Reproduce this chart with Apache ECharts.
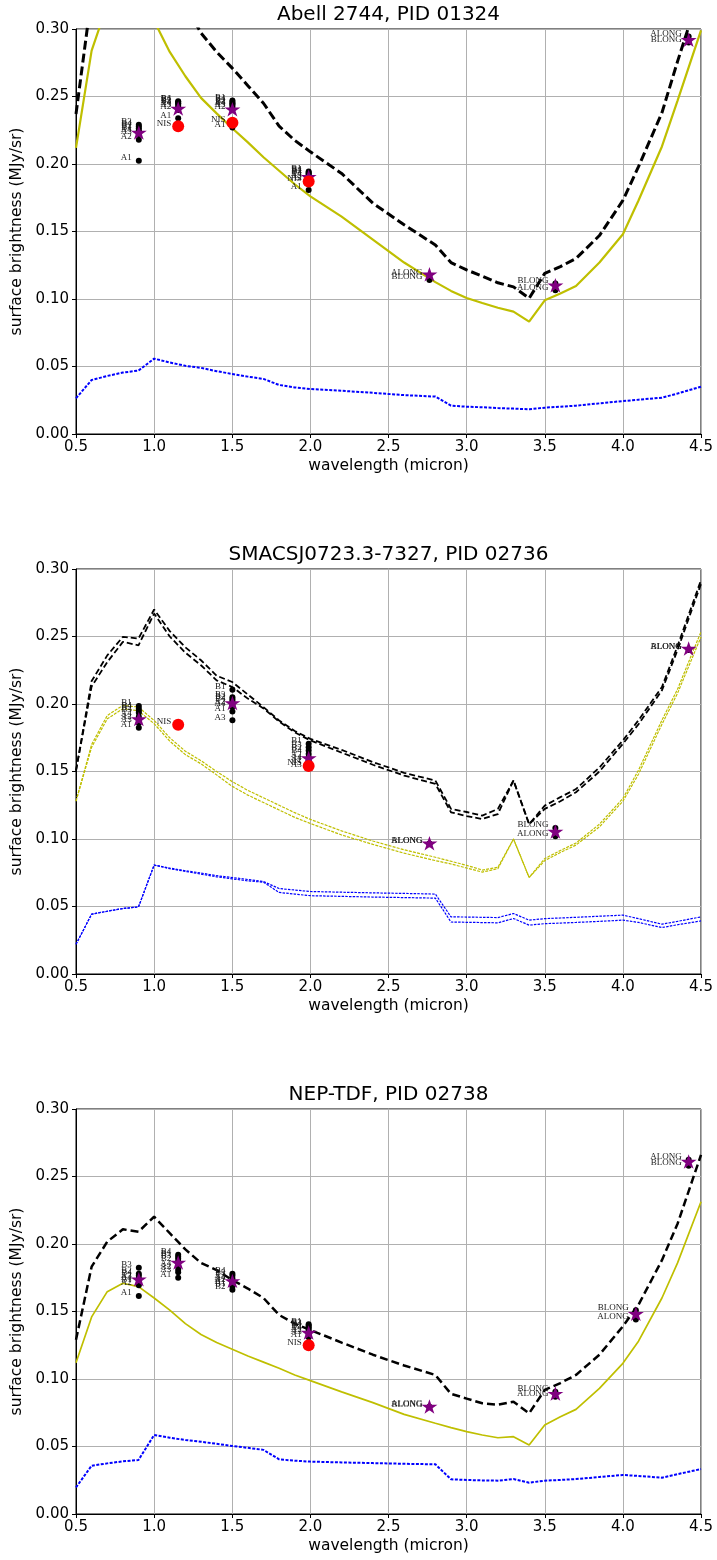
<!DOCTYPE html>
<html>
<head>
<meta charset="utf-8">
<script src="https://cdn.jsdelivr.net/npm/echarts@6/dist/echarts.min.js"></script>
<style>
html,body{margin:0;padding:0;background:#fff;}
#chart{width:717px;height:1560px;}
</style>
</head>
<body>
<div id="chart"></div>
<script>
// ---------------- data ----------------
const TITLES = ['Abell 2744, PID 01324', 'SMACSJ0723.3-7327, PID 02736', 'NEP-TDF, PID 02738'];
const X_LABEL = 'wavelength (micron)';
const Y_LABEL = 'surface brightness (MJy/sr)';

const WAVE = [0.5,0.6,0.7,0.8,0.9,1.0,1.1,1.2,1.3,1.4,1.5,1.6,1.7,1.8,1.9,2.0,2.2,2.4,2.6,2.8,2.9,3.0,3.1,3.2,3.3,3.4,3.5,3.6,3.7,3.85,4.0,4.1,4.25,4.35,4.5];

// Panel 1 (Abell 2744)
const P1_TOTAL = [0.237,0.325,0.350,0.365,0.362,0.375,0.345,0.318,0.297,0.283,0.271,0.258,0.245,0.228,0.2175,0.209,0.193,0.171,0.155,0.140,0.127,0.1215,0.117,0.112,0.109,0.1005,0.119,0.124,0.130,0.147,0.173,0.198,0.238,0.276,0.330];
const P1_ZODI  = [0.212,0.284,0.318,0.325,0.320,0.306,0.283,0.265,0.249,0.2375,0.2265,0.216,0.205,0.195,0.185,0.176,0.161,0.144,0.127,0.1125,0.106,0.1007,0.097,0.0935,0.0906,0.0832,0.099,0.104,0.1096,0.127,0.148,0.173,0.213,0.247,0.299];
const P1_ISM   = [0.0265,0.040,0.043,0.0455,0.047,0.0558,0.053,0.0505,0.049,0.0465,0.0445,0.0425,0.0408,0.0363,0.0345,0.0333,0.032,0.0305,0.0288,0.0277,0.021,0.0202,0.0198,0.0192,0.0188,0.0183,0.0195,0.0202,0.021,0.0227,0.0244,0.0254,0.0269,0.030,0.035];

// Panel 2 (SMACS 0723) - two model epochs
const P2_TOTAL_HI = [0.1507,0.217,0.236,0.2497,0.2485,0.270,0.254,0.242,0.2324,0.221,0.2163,0.207,0.1977,0.1878,0.180,0.1742,0.166,0.157,0.149,0.1433,0.1223,0.120,0.1173,0.1223,0.1433,0.111,0.1247,0.131,0.137,0.153,0.173,0.188,0.2126,0.243,0.2918];
const P2_TOTAL_LO = [0.1507,0.213,0.231,0.246,0.2435,0.267,0.250,0.238,0.2287,0.2175,0.2126,0.204,0.1967,0.187,0.179,0.173,0.164,0.155,0.147,0.1408,0.1198,0.117,0.1148,0.1185,0.1433,0.111,0.1223,0.128,0.1346,0.150,0.1705,0.185,0.2101,0.240,0.289];
const P2_ZODI_HI  = [0.128,0.170,0.1915,0.199,0.1977,0.1878,0.175,0.165,0.158,0.150,0.1425,0.136,0.1305,0.125,0.1195,0.1145,0.106,0.0985,0.092,0.0865,0.0835,0.0805,0.077,0.079,0.100,0.0715,0.0855,0.0915,0.097,0.111,0.130,0.151,0.188,0.211,0.2535];
const P2_ZODI_LO  = [0.128,0.168,0.189,0.1965,0.195,0.1854,0.1725,0.1625,0.1557,0.1475,0.139,0.1325,0.127,0.1215,0.116,0.1115,0.103,0.096,0.0895,0.084,0.0815,0.0785,0.0755,0.078,0.100,0.0715,0.084,0.090,0.0955,0.109,0.128,0.148,0.185,0.208,0.2497];
const P2_ISM_HI   = [0.022,0.0443,0.0465,0.0485,0.0497,0.0807,0.0785,0.0765,0.0748,0.0728,0.0715,0.070,0.0685,0.0633,0.0622,0.0611,0.0606,0.0601,0.0597,0.0592,0.0423,0.0422,0.0420,0.0418,0.0448,0.0399,0.0410,0.0415,0.0420,0.0428,0.0436,0.0410,0.0369,0.0390,0.0423];
const P2_ISM_LO   = [0.022,0.0443,0.0465,0.0485,0.0497,0.0807,0.078,0.076,0.074,0.072,0.0705,0.069,0.068,0.0604,0.0592,0.0580,0.0575,0.0570,0.0566,0.0562,0.0385,0.0383,0.0381,0.0379,0.0411,0.0362,0.0373,0.0377,0.0382,0.0390,0.0399,0.0382,0.0344,0.0365,0.0393];

// Panel 3 (NEP-TDF)
const P3_TOTAL = [0.129,0.1832,0.2017,0.2109,0.2091,0.2202,0.208,0.196,0.186,0.1807,0.1733,0.167,0.160,0.1474,0.141,0.1363,0.127,0.118,0.110,0.103,0.089,0.0855,0.082,0.081,0.0832,0.0746,0.0919,0.097,0.103,0.118,0.139,0.155,0.188,0.215,0.266];
const P3_ZODI  = [0.112,0.146,0.1647,0.1709,0.1684,0.160,0.151,0.141,0.133,0.127,0.122,0.117,0.1125,0.108,0.103,0.0988,0.0905,0.0825,0.0738,0.0672,0.064,0.061,0.0585,0.0565,0.0573,0.0511,0.0659,0.072,0.0775,0.093,0.1116,0.128,0.160,0.186,0.2313];
const P3_ISM   = [0.0197,0.0358,0.0375,0.039,0.040,0.0585,0.0565,0.0548,0.0535,0.052,0.0504,0.049,0.0475,0.0405,0.0395,0.0388,0.0382,0.0377,0.0372,0.0368,0.0257,0.0252,0.0249,0.0247,0.0259,0.0232,0.0247,0.0252,0.0259,0.0274,0.0289,0.0282,0.0269,0.0295,0.0333];

// Measured detector values (black dots, labelled)
const P1_DOT_WAVE  = [0.902,0.902,0.902,0.902,0.902,0.902,0.902,0.902, 1.154,1.154,1.154,1.154,1.154,1.154,1.154,1.154, 1.501,1.501,1.501,1.501,1.501,1.501,1.501,1.501, 1.989,1.989,1.989,1.989,1.989,1.989,1.989,1.989, 2.762,2.762, 3.568,3.568, 4.421,4.421];
const P1_DOT_LABEL = ['B3','B4','B2','B1','A4','A3','A2','A1', 'B4','B1','B2','B3','A4','A3','A2','A1', 'B1','B4','B2','B3','A4','A3','A2','A1', 'B1','B4','B2','B3','A4','A3','A2','A1', 'ALONG','BLONG', 'BLONG','ALONG', 'ALONG','BLONG'];
const P1_DOT_VALUE = [0.2290,0.2278,0.2265,0.2250,0.2235,0.2220,0.2180,0.2025, 0.2465,0.2460,0.2450,0.2445,0.2430,0.2415,0.2400,0.2338, 0.2470,0.2460,0.2450,0.2440,0.2430,0.2415,0.2400,0.2270, 0.1945,0.1935,0.1928,0.1920,0.1905,0.1890,0.1880,0.1807, 0.1175,0.1140, 0.1115,0.1065, 0.2945,0.2900];
const P1_STAR_WAVE  = [0.902,1.154,1.501,1.989,2.762,3.568,4.421];
const P1_STAR_VALUE = [0.2227,0.2405,0.2400,0.1900,0.1178,0.1096,0.2915];
const P1_NIS_WAVE  = [1.154,1.501,1.989];
const P1_NIS_VALUE = [0.2280,0.2305,0.1870];

const P2_DOT_WAVE  = [0.902,0.902,0.902,0.902,0.902,0.902,0.902,0.902, 1.501,1.501,1.501,1.501,1.501,1.501,1.501,1.501, 1.989,1.989,1.989,1.989,1.989,1.989,1.989,1.989, 2.762,2.762, 3.568,3.568, 4.421,4.421];
const P2_DOT_LABEL = ['B1','B4','B2','B3','A4','A2','A3','A1', 'B1','B3','B2','B4','A2','A4','A1','A3', 'B1','B3','B2','B4','A2','A4','A1','A3', 'ALONG','BLONG', 'BLONG','ALONG', 'ALONG','BLONG'];
const P2_DOT_VALUE = [0.1985,0.1965,0.1950,0.1935,0.1905,0.1885,0.1860,0.1825, 0.2105,0.2050,0.2035,0.2020,0.1995,0.1980,0.1945,0.1880, 0.1705,0.1680,0.1655,0.1630,0.1605,0.1580,0.1560,0.1525, 0.0966,0.0962, 0.1082,0.1020, 0.2405,0.2400];
const P2_STAR_WAVE  = [0.902,1.501,1.989,2.762,3.568,4.421];
const P2_STAR_VALUE = [0.1883,0.2002,0.1594,0.0963,0.1050,0.2405];
const P2_NIS_WAVE  = [1.154,1.989];
const P2_NIS_VALUE = [0.1846,0.1540];

const P3_DOT_WAVE  = [0.902,0.902,0.902,0.902,0.902,0.902,0.902,0.902, 1.154,1.154,1.154,1.154,1.154,1.154,1.154,1.154, 1.501,1.501,1.501,1.501,1.501,1.501,1.501,1.501, 1.989,1.989,1.989,1.989,1.989,1.989,1.989,1.989, 2.762,2.762, 3.568,3.568, 4.083,4.083, 4.421,4.421];
const P3_DOT_LABEL = ['B3','B2','B4','A3','A4','B1','A2','A1', 'B4','B1','B3','B2','A4','A2','A3','A1', 'B4','B3','A3','A4','A2','A1','B1','B2', 'B1','B3','B4','B2','A4','A2','A3','A1', 'ALONG','BLONG', 'BLONG','ALONG', 'BLONG','ALONG', 'ALONG','BLONG'];
const P3_DOT_VALUE = [0.1825,0.1780,0.1765,0.1745,0.1730,0.1712,0.1695,0.1615, 0.1920,0.1905,0.1890,0.1870,0.1835,0.1810,0.1790,0.1750, 0.1780,0.1765,0.1745,0.1730,0.1715,0.1700,0.1685,0.1662, 0.1405,0.1395,0.1385,0.1375,0.1360,0.1345,0.1330,0.1310, 0.0795,0.0790, 0.0905,0.0868, 0.1510,0.1440, 0.2625,0.2580];
const P3_STAR_WAVE  = [0.902,1.154,1.501,1.989,2.762,3.568,4.083,4.421];
const P3_STAR_VALUE = [0.1733,0.1857,0.1721,0.1338,0.0790,0.0886,0.1478,0.2605];
const P3_NIS_WAVE  = [1.989];
const P3_NIS_VALUE = [0.1250];

const X_TICKS = {min:0.5, max:4.5, step:0.5};
const Y_TICKS = {min:0, max:0.30, step:0.05};

// ---------------- chart ----------------
const FONT = '"DejaVu Sans", sans-serif';
const SERIF = '"Liberation Serif", "DejaVu Serif", serif';
const STAR = 'path://M0,-100L22.45,-30.9L95.1,-30.9L36.3,11.8L58.8,80.9L0,38.2L-58.8,80.9L-36.3,11.8L-95.1,-30.9L-22.45,-30.9Z';
const GRID_LEFT = 76, GRID_W = 625, GRID_H = 405, GRID_TOPS = [29, 569, 1109];

const zip = (xs, ys) => xs.map((x, i) => [x, ys[i]]);
const zip3 = (xs, ys, ls) => xs.map((x, i) => [x, ys[i], ls[i]]);

function lineSeries(idx, values, color, width, dash, z) {
  return {
    type: 'line', xAxisIndex: idx, yAxisIndex: idx,
    data: zip(WAVE, values), showSymbol: false, symbol: 'none',
    lineStyle: {color: color, width: width, type: dash, cap: 'butt', opacity: 1},
    clip: true, silent: true, animation: false, z: z
  };
}
const labelStyle = {
  show: true, position: 'left', distance: 4, offset: [0, -3],
  formatter: p => p.data[2], fontFamily: SERIF, fontSize: 9, color: '#1a1a1a'
};
function dotSeries(idx, w, v, l) {
  return {
    type: 'scatter', xAxisIndex: idx, yAxisIndex: idx, data: zip3(w, v, l),
    symbol: 'circle', symbolSize: 6, itemStyle: {color: '#000', opacity: 1},
    label: labelStyle, silent: true, animation: false, z: 5
  };
}
function starSeries(idx, w, v) {
  return {
    type: 'scatter', xAxisIndex: idx, yAxisIndex: idx, data: zip(w, v),
    symbol: STAR, symbolSize: [16, 15.2], symbolKeepAspect: true, symbolOffset: [0, -0.8],
    itemStyle: {color: '#800080', opacity: 1}, silent: true, animation: false, z: 6
  };
}
function nisSeries(idx, w, v) {
  return {
    type: 'scatter', xAxisIndex: idx, yAxisIndex: idx,
    data: w.map((x, i) => [x, v[i], 'NIS']),
    symbol: 'circle', symbolSize: 12, itemStyle: {color: '#ff0000', opacity: 1},
    label: Object.assign({}, labelStyle, {distance: 1}), silent: true, animation: false, z: 7
  };
}

const grids = [], xAxes = [], yAxes = [], titles = [];
GRID_TOPS.forEach((top, i) => {
  grids.push({left: GRID_LEFT, top: top, width: GRID_W, height: GRID_H, show: true,
    borderColor: '#000', borderWidth: 1, backgroundColor: 'rgba(0,0,0,0)'});
  xAxes.push({
    type: 'value', gridIndex: i, min: X_TICKS.min, max: X_TICKS.max, interval: X_TICKS.step,
    axisLine: {show: true, onZero: false, lineStyle: {color: '#000', width: 1}},
    axisTick: {show: true, inside: false, length: 4, lineStyle: {color: '#000', width: 1}},
    axisLabel: {formatter: v => v.toFixed(1), fontFamily: FONT, fontSize: 15, color: '#000', margin: 6},
    splitLine: {show: true, lineStyle: {color: '#b0b0b0', width: 1}},
    name: X_LABEL, nameLocation: 'middle', nameGap: 24,
    nameTextStyle: {fontFamily: FONT, fontSize: 15.5, color: '#000'}
  });
  yAxes.push({
    type: 'value', gridIndex: i, min: Y_TICKS.min, max: Y_TICKS.max, interval: Y_TICKS.step,
    axisLine: {show: true, onZero: false, lineStyle: {color: '#000', width: 1}},
    axisTick: {show: true, inside: false, length: 4, lineStyle: {color: '#000', width: 1}},
    axisLabel: {formatter: v => v.toFixed(2), fontFamily: FONT, fontSize: 15, color: '#000', margin: 7},
    splitLine: {show: true, lineStyle: {color: '#b0b0b0', width: 1}},
    name: Y_LABEL, nameLocation: 'middle', nameGap: 43,
    nameTextStyle: {fontFamily: FONT, fontSize: 15.5, color: '#000'}
  });
  titles.push({
    text: TITLES[i], left: GRID_LEFT + GRID_W / 2, top: top - 24, textAlign: 'center', padding: 0,
    textStyle: {fontFamily: FONT, fontSize: 20, fontWeight: 'normal', color: '#000'}
  });
});

const series = [
  // panel 1
  lineSeries(0, P1_ISM, '#0000ff', 2, [3, 1.5], 2),
  lineSeries(0, P1_ZODI, '#bfbf00', 2.2, 'solid', 2),
  lineSeries(0, P1_TOTAL, '#000000', 3, [9, 4], 3),
  dotSeries(0, P1_DOT_WAVE, P1_DOT_VALUE, P1_DOT_LABEL),
  starSeries(0, P1_STAR_WAVE, P1_STAR_VALUE),
  nisSeries(0, P1_NIS_WAVE, P1_NIS_VALUE),
  // panel 2
  lineSeries(1, P2_ISM_HI, '#0000ff', 1.2, [2.5, 1.2], 2),
  lineSeries(1, P2_ISM_LO, '#0000ff', 1.2, [2.5, 1.2], 2),
  lineSeries(1, P2_ZODI_HI, '#bfbf00', 1.2, [3, 1.2], 2),
  lineSeries(1, P2_ZODI_LO, '#bfbf00', 1.2, [3, 1.2], 2),
  lineSeries(1, P2_TOTAL_HI, '#000000', 1.8, [6, 3], 3),
  lineSeries(1, P2_TOTAL_LO, '#000000', 1.8, [6, 3], 3),
  dotSeries(1, P2_DOT_WAVE, P2_DOT_VALUE, P2_DOT_LABEL),
  starSeries(1, P2_STAR_WAVE, P2_STAR_VALUE),
  nisSeries(1, P2_NIS_WAVE, P2_NIS_VALUE),
  // panel 3
  lineSeries(2, P3_ISM, '#0000ff', 2, [3, 1.5], 2),
  lineSeries(2, P3_ZODI, '#bfbf00', 1.7, 'solid', 2),
  lineSeries(2, P3_TOTAL, '#000000', 2.5, [8, 4], 3),
  dotSeries(2, P3_DOT_WAVE, P3_DOT_VALUE, P3_DOT_LABEL),
  starSeries(2, P3_STAR_WAVE, P3_STAR_VALUE),
  nisSeries(2, P3_NIS_WAVE, P3_NIS_VALUE)
];

const chart = echarts.init(document.getElementById('chart'), null, {renderer: 'canvas', width: 717, height: 1560});
chart.setOption({
  backgroundColor: '#ffffff',
  animation: false,
  title: titles,
  grid: grids,
  xAxis: xAxes,
  yAxis: yAxes,
  series: series
});
</script>
</body>
</html>
